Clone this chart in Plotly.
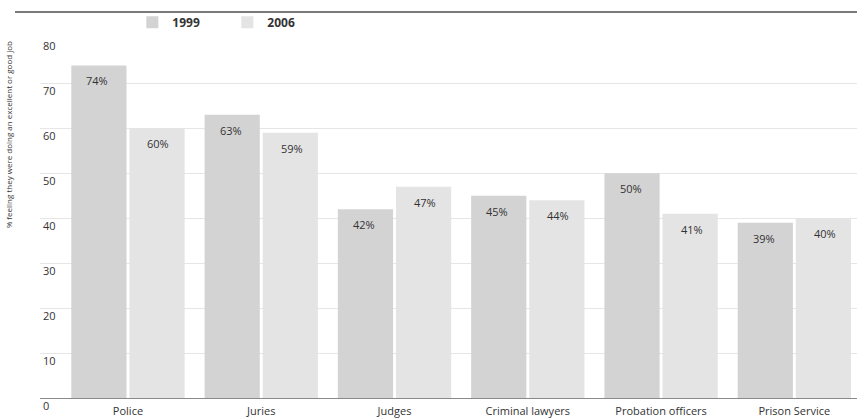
import plotly.graph_objects as go

categories = ["Police", "Juries", "Judges", "Criminal lawyers", "Probation officers", "Prison Service"]
values_1999 = [74, 63, 42, 45, 50, 39]
values_2006 = [60, 59, 47, 44, 41, 40]
y_ticks = [0, 10, 20, 30, 40, 50, 60, 70, 80]

FONT = "Open Sans"
TEXT = "#333333"

fig = go.Figure()
fig.add_trace(go.Bar(name="1999", x=categories, y=values_1999, marker_color="#d3d3d3",
                     marker_line_width=0, hoverinfo="skip"))
fig.add_trace(go.Bar(name="2006", x=categories, y=values_2006, marker_color="#e4e4e4",
                     marker_line_width=0, hoverinfo="skip"))

# value labels just inside the top of each bar
annotations = []
for vals, shift in ((values_1999, -30.5), (values_2006, 30.5)):
    for cat, v in zip(categories, vals):
        annotations.append(dict(x=cat, y=v, xref="x", yref="y", text=f"{v}%",
                                showarrow=False, xshift=shift, yshift=-6, yanchor="top",
                                font=dict(family=FONT, size=11, color=TEXT)))

annotations.append(dict(x=-0.039, y=0.73, xref="paper", yref="paper",
                        xanchor="center", yanchor="middle",
                        text="% feeling they were doing an excellent or good job",
                        textangle=-90, showarrow=False,
                        font=dict(family=FONT, size=8, color=TEXT)))

fig.update_layout(
    width=857, height=419,
    margin=dict(l=40, r=0, t=38, b=21),
    paper_bgcolor="white", plot_bgcolor="white",
    barmode="group", bargap=0.128, bargroupgap=0.05,
    font=dict(family=FONT, size=11, color=TEXT),
    showlegend=True,
    legend=dict(orientation="h", x=0.113, xanchor="left", y=1.044, yanchor="middle",
                entrywidth=50, entrywidthmode="pixels", itemwidth=30,
                font=dict(family=FONT, size=12, color=TEXT, weight="bold"),
                bgcolor="rgba(0,0,0,0)"),
    annotations=annotations,
    shapes=[dict(type="line", xref="paper", yref="paper", x0=-0.0306, x1=1,
                 y0=1.072, y1=1.072, line=dict(color="#7a7a7a", width=2))],
)
fig.update_xaxes(range=[-0.66, 5.47], showgrid=False, showline=True, linecolor="#8a8a8a",
                 linewidth=1, ticks="", ticklabelstandoff=3,
                 tickfont=dict(family=FONT, size=11, color=TEXT))
fig.update_yaxes(range=[0, 80.1], tickvals=y_ticks, showgrid=True, gridcolor="#e6e6e6",
                 gridwidth=1, zeroline=False, showline=False, ticks="",
                 ticklabelposition="inside bottom", ticklabeloverflow="allow",
                 tickfont=dict(family=FONT, size=11, color=TEXT))

fig.write_html("out.html")
